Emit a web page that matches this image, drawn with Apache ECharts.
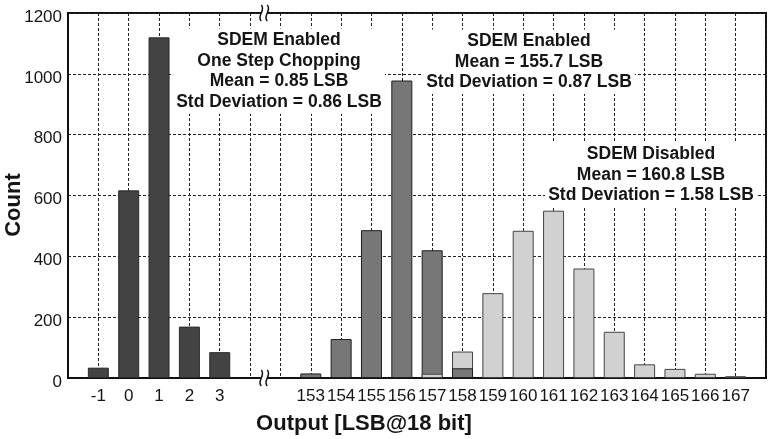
<!DOCTYPE html>
<html>
<head>
<meta charset="utf-8">
<script src="https://cdn.jsdelivr.net/npm/echarts@6/dist/echarts.min.js"></script>
<style>
  html, body { margin: 0; padding: 0; background: #fff; }
  #chart { width: 769px; height: 439px; }
</style>
</head>
<body>
<div id="chart"></div>
<script>
// ---- Data ----
const choppingLabels = ['-1', '0', '1', '2', '3'];
const choppingCounts = [34, 617, 1120, 169, 85];          // SDEM enabled, one step chopping

const outputLabels = ['153','154','155','156','157','158','159','160','161','162','163','164','165','166','167'];
const enabledCounts  = [15, 128, 486, 978, 420, 32, null, null, null, null, null, null, null, null, null]; // SDEM enabled
const disabledCounts = [null, null, null, null, 14, 87, 279, 484, 550, 360, 152, 45, 30, 14, 6];          // SDEM disabled

const yTicks = { min: 0, max: 1200, interval: 200 };
const xTitle = 'Output [LSB@18 bit]';
const yTitle = 'Count';
const notes = [
  'SDEM Enabled\nOne Step Chopping\nMean = 0.85 LSB\nStd Deviation = 0.86 LSB',
  'SDEM Enabled\nMean = 155.7 LSB\nStd Deviation = 0.87 LSB',
  'SDEM Disabled\nMean = 160.8 LSB\nStd Deviation = 1.58 LSB'
];

// ---- Build category axis (with empty slots for padding and axis break) ----
const categories = [''].concat(choppingLabels, ['', ''], outputLabels, ['']);
const n = categories.length;
const darkArr = new Array(n).fill(null);
const medArr = new Array(n).fill(null);
const lightArr = new Array(n).fill(null);
choppingCounts.forEach((v, i) => { darkArr[1 + i] = v; });
const off = 1 + choppingLabels.length + 2;
enabledCounts.forEach((v, i) => { medArr[off + i] = v; });
disabledCounts.forEach((v, i) => { lightArr[off + i] = v; });

const styles = {
  dark:  { color: '#434343', borderColor: '#2a2a2a', borderWidth: 1 },
  med:   { color: '#777777', borderColor: '#1e1e1e', borderWidth: 1 },
  light: { color: '#d0d1d0', borderColor: '#444444', borderWidth: 1 }
};

const backData = [], frontData = [];
for (let i = 0; i < n; i++) {
  const items = [];
  if (darkArr[i] != null) items.push({ v: darkArr[i], s: styles.dark });
  if (medArr[i] != null) items.push({ v: medArr[i], s: styles.med });
  if (lightArr[i] != null) items.push({ v: lightArr[i], s: styles.light });
  items.sort((a, b) => b.v - a.v);
  backData.push(items[0] ? { value: items[0].v, itemStyle: items[0].s } : null);
  frontData.push(items[1] ? { value: items[1].v, itemStyle: items[1].s } : null);
}

const FONT = '"Liberation Sans", Arial, Helvetica, sans-serif';
const chart = echarts.init(document.getElementById('chart'), null, { renderer: 'canvas' });

const option = {
  animation: false,
  backgroundColor: '#fff',
  grid: { left: 68, right: 2, top: 13, bottom: 61, show: true, borderColor: '#111', borderWidth: 2 },
  xAxis: {
    type: 'category',
    data: categories,
    boundaryGap: false,
    axisLine: { lineStyle: { color: '#111', width: 2 } },
    axisTick: { show: false },
    axisLabel: { interval: 0, margin: 10, fontSize: 17, color: '#151515', fontFamily: FONT },
    splitLine: { show: true, interval: 0, lineStyle: { type: [3, 2], color: '#222', width: 1 } }
  },
  yAxis: {
    type: 'value',
    min: yTicks.min, max: yTicks.max, interval: yTicks.interval,
    axisLine: { show: true, lineStyle: { color: '#111', width: 2 } },
    axisTick: { show: false },
    axisLabel: {
      margin: 6,
      formatter: v => '{a|' + v + '}',
      rich: { a: { fontSize: 17, color: '#151515', fontFamily: FONT, padding: [8, 0, 0, 0] } }
    },
    splitLine: { show: true, lineStyle: { type: [3, 2], color: '#222', width: 1 } }
  },
  series: [
    { type: 'bar', name: 'back', data: backData, barWidth: 21, barGap: '-100%', z: 2 },
    { type: 'bar', name: 'front', data: frontData, barWidth: 21, barGap: '-100%', z: 3 }
  ]
};
chart.setOption(option);

// ---- Decorations: axis breaks, titles, annotations ----
const p6 = chart.convertToPixel({ gridIndex: 0 }, [6, yTicks.max]);
const p7 = chart.convertToPixel({ gridIndex: 0 }, [7, yTicks.min]);
const bx = (p6[0] + p7[0]) / 2 - 1;
const topY = p6[1], botY = p7[1];

function breakMark(y) {
  const els = [];
  els.push({ type: 'rect', shape: { x: bx - 3, y: y - 3, width: 6, height: 6 }, style: { fill: '#fff' }, z: 100 });
  [-3, 3].forEach(dx => {
    els.push({
      type: 'bezierCurve',
      shape: { x1: bx + dx, y1: y - 8, x2: bx + dx, y2: y + 8, cpx1: bx + dx + 5, cpy1: y - 3, cpx2: bx + dx - 5, cpy2: y + 3 },
      style: { stroke: '#111', lineWidth: 1.5, fill: null },
      z: 101
    });
  });
  return els;
}

const noteStyle = (text, x, y) => ({
  type: 'text', x: x, y: y, z: 90,
  style: {
    text: text, align: 'center', verticalAlign: 'top',
    fontFamily: FONT, fontWeight: 'bold', fontSize: 17.5, lineHeight: 20.8,
    fill: '#151515', backgroundColor: '#fff', padding: [1, 3, 1, 3]
  }
});

chart.setOption({
  graphic: [].concat(
    breakMark(topY),
    breakMark(botY),
    [
      noteStyle(notes[0], 279, 28.5),
      noteStyle(notes[1], 529, 29.5),
      noteStyle(notes[2], 651, 142.5),
      {
        type: 'text', x: 364, y: 424, z: 90,
        style: { text: xTitle, align: 'center', verticalAlign: 'middle', fontFamily: FONT, fontWeight: 'bold', fontSize: 22, fill: '#151515' }
      },
      {
        type: 'text', x: 14, y: 205, rotation: Math.PI / 2, z: 90,
        style: { text: yTitle, align: 'center', verticalAlign: 'middle', fontFamily: FONT, fontWeight: 'bold', fontSize: 22, fill: '#151515' }
      }
    ]
  )
});
</script>
</body>
</html>
